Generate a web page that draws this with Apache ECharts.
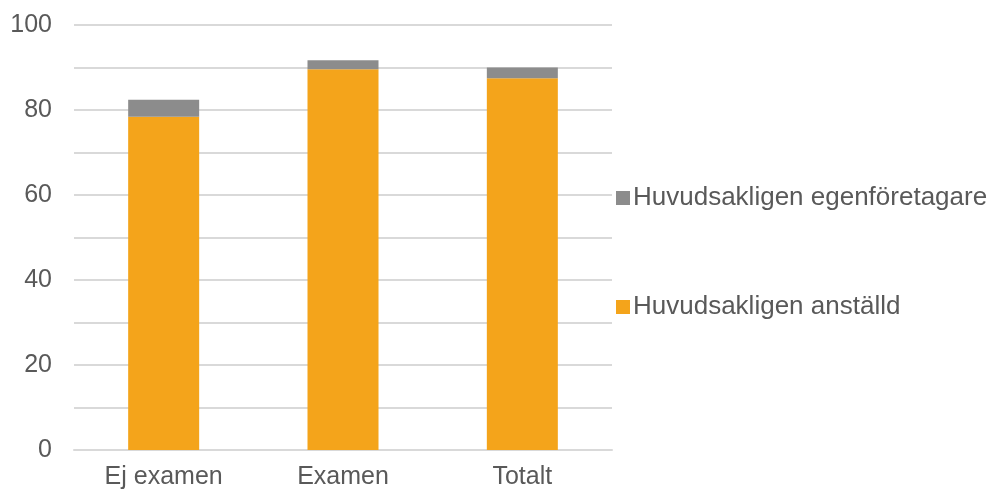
<!DOCTYPE html>
<html>
<head>
<meta charset="utf-8">
<script src="https://cdn.jsdelivr.net/npm/echarts@6/dist/echarts.min.js"></script>
<style>html,body{margin:0;padding:0;background:#fff}#c{width:996px;height:494px}</style>
</head>
<body>
<div id="c"></div>
<script>
const categories = ['Ej examen', 'Examen', 'Totalt'];
const anstalld = [78.4, 89.6, 87.5];
const egen = [4.0, 2.1, 2.5];
const yTicks = { min: 0, max: 100, interval: 20 };

const chart = echarts.init(document.getElementById('c'), null, { renderer: 'canvas' });
const font = 'Liberation Sans, Arial, sans-serif';
const textColor = '#595959';
const gridColor = '#d9d9d9';
chart.setOption({
  animation: false,
  grid: { left: 74, right: 384, top: 25, bottom: 44, containLabel: false },
  legend: {
    orient: 'vertical',
    left: 611,
    top: 178,
    itemWidth: 14,
    itemHeight: 14,
    itemGap: 79,
    icon: 'rect',
    data: ['Huvudsakligen egenföretagare', 'Huvudsakligen anställd'],
    textStyle: { fontFamily: font, fontSize: 26, color: textColor, lineHeight: 30, padding: [0, 0, 0, -2] }
  },
  xAxis: {
    type: 'category',
    data: categories,
    axisLine: { show: true, lineStyle: { color: gridColor, width: 2 } },
    axisTick: { show: false },
    axisLabel: { fontFamily: font, fontSize: 25, color: textColor, margin: 15 }
  },
  yAxis: {
    type: 'value',
    min: yTicks.min,
    max: yTicks.max,
    interval: yTicks.interval,
    axisLine: { show: false },
    axisTick: { show: false },
    axisLabel: { fontFamily: font, fontSize: 25, color: textColor, margin: 22 },
    splitLine: { show: true, lineStyle: { color: gridColor, width: 2 } },
    minorTick: { show: false, splitNumber: 2 },
    minorSplitLine: { show: true, lineStyle: { color: gridColor, width: 2 } }
  },
  series: [
    {
      name: 'Huvudsakligen anställd',
      type: 'bar',
      stack: 'a',
      barWidth: 71,
      data: anstalld,
      itemStyle: { color: '#F4A41B' }
    },
    {
      name: 'Huvudsakligen egenföretagare',
      type: 'bar',
      stack: 'a',
      barWidth: 71,
      data: egen,
      itemStyle: { color: '#8C8C8C' }
    }
  ]
});
</script>
</body>
</html>
